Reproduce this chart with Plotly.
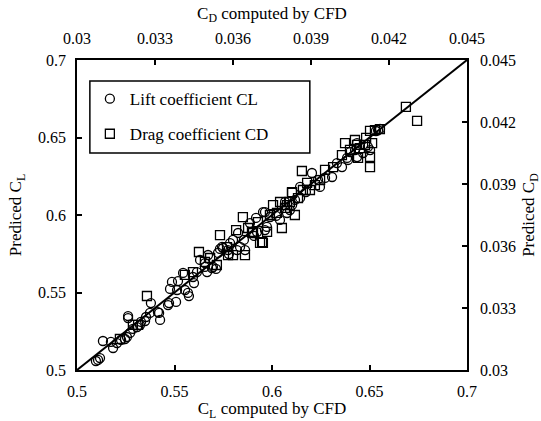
import plotly.graph_objects as go

# Lift coefficient: CFD (x) vs predicted (y)
cl_cfd = [0.5108, 0.5118, 0.5097, 0.5133, 0.5174, 0.5185, 0.5205, 0.5226, 0.5246, 0.5256,
          0.5272, 0.5287, 0.5308, 0.5323, 0.5328, 0.5349, 0.5354, 0.5374, 0.5379, 0.5421,
          0.5426, 0.5262, 0.5262, 0.5467, 0.5415, 0.5472, 0.5508, 0.5477, 0.5513, 0.5487,
          0.5518, 0.5554, 0.5574, 0.5544, 0.5595, 0.5600, 0.5615, 0.5631, 0.5656, 0.5667,
          0.5697, 0.5713, 0.5733, 0.5749, 0.5779, 0.5800, 0.5826, 0.5862, 0.5887, 0.5918,
          0.5923, 0.5964, 0.5974, 0.5569, 0.5656, 0.5672, 0.5692, 0.5723, 0.5774, 0.5821,
          0.5785, 0.5836, 0.5744, 0.5964, 0.6041, 0.6077, 0.6118, 0.5990, 0.5954, 0.6144,
          0.6205, 0.6308, 0.6390, 0.6426, 0.6333, 0.6359, 0.6246, 0.6144, 0.6067, 0.6544,
          0.6554, 0.6436, 0.6492, 0.6467, 0.6400, 0.6385, 0.6503, 0.6436, 0.6533, 0.6021,
          0.6103, 0.6174, 0.6272, 0.5908, 0.5856, 0.6236, 0.6092]
cl_pred = [0.5065, 0.5077, 0.5058, 0.5187, 0.5181, 0.5142, 0.5174, 0.5194, 0.5200, 0.5213,
           0.5239, 0.5265, 0.5277, 0.5290, 0.5310, 0.5316, 0.5342, 0.5368, 0.5432, 0.5368,
           0.5323, 0.5348, 0.5335, 0.5419, 0.5374, 0.5432, 0.5439, 0.5523, 0.5516, 0.5568,
           0.5574, 0.5516, 0.5477, 0.5626, 0.5600, 0.5561, 0.5632, 0.5710, 0.5665, 0.5632,
           0.5665, 0.5652, 0.5781, 0.5787, 0.5748, 0.5839, 0.5884, 0.5774, 0.5948, 0.5981,
           0.5890, 0.6019, 0.5923, 0.5497, 0.5690, 0.5742, 0.5658, 0.5755, 0.5774, 0.5774,
           0.5819, 0.5794, 0.5794, 0.5903, 0.5968, 0.6013, 0.6097, 0.5987, 0.6019, 0.6181,
           0.6271, 0.6245, 0.6355, 0.6419, 0.6335, 0.6309, 0.6181, 0.6110, 0.6084, 0.6548,
           0.6555, 0.6464, 0.6439, 0.6400, 0.6406, 0.6368, 0.6419, 0.6374, 0.6542, 0.5994,
           0.6065, 0.6148, 0.6239, 0.5865, 0.5839, 0.6226, 0.6032]

# Drag coefficient: CFD (x) vs predicted (y)
cd_cfd = [0.04265, 0.04308, 0.04127, 0.04165, 0.04135, 0.04127, 0.04127, 0.04031, 0.04088, 0.04081,
          0.04077, 0.04019, 0.03954, 0.03865, 0.03985, 0.03827, 0.03869, 0.03915, 0.03885, 0.03781,
          0.03769, 0.03808, 0.03838, 0.03754, 0.03788, 0.03731, 0.03677, 0.03638, 0.03612, 0.03704,
          0.03712, 0.03646, 0.03577, 0.03550, 0.03581, 0.03600, 0.03492, 0.03469, 0.03446, 0.03538,
          0.03269, 0.03215, 0.03165, 0.03715, 0.03673, 0.03827, 0.04112, 0.04108, 0.04050, 0.03935,
          0.03742, 0.03800, 0.03850, 0.03896, 0.03658, 0.03696, 0.03512, 0.03415, 0.03235, 0.04069,
          0.04146, 0.03819]
cd_pred = [0.04273, 0.04205, 0.04157, 0.04166, 0.04098, 0.04031, 0.03982, 0.04098, 0.04074, 0.04026,
           0.04089, 0.04040, 0.03968, 0.03963, 0.03982, 0.03861, 0.03871, 0.03895, 0.03905, 0.03813,
           0.03760, 0.03798, 0.03750, 0.03798, 0.03687, 0.03668, 0.03663, 0.03740, 0.03677, 0.03615,
           0.03619, 0.03556, 0.03595, 0.03653, 0.03556, 0.03556, 0.03523, 0.03571, 0.03474, 0.03508,
           0.03358, 0.03218, 0.03150, 0.03615, 0.03668, 0.03857, 0.04123, 0.04089, 0.04065, 0.03919,
           0.03750, 0.03784, 0.03832, 0.03871, 0.03687, 0.03716, 0.03542, 0.03460, 0.03218, 0.04113,
           0.04161, 0.03813]

diag = [0.5, 0.7]
cl_ticks = [0.5, 0.55, 0.6, 0.65, 0.7]
cl_ticktext = ["0.5", "0.55", "0.6", "0.65", "0.7"]
cd_ticks = [0.03, 0.033, 0.036, 0.039, 0.042, 0.045]
cd_ticktext = ["0.03", "0.033", "0.036", "0.039", "0.042", "0.045"]

FONT = "Liberation Serif"

fig = go.Figure()
fig.add_trace(go.Scatter(x=diag, y=diag, mode="lines", line=dict(color="black", width=2),
                         showlegend=False, hoverinfo="skip"))
fig.add_trace(go.Scatter(x=cl_cfd, y=cl_pred, mode="markers", name="Lift coefficient CL",
                         legendgroup="a",
                         marker=dict(symbol="circle-open", size=9, color="black",
                                     line=dict(width=1.3, color="black"))))
fig.add_trace(go.Scatter(x=cd_cfd, y=cd_pred, mode="markers", name="Drag coefficient CD",
                         legendgroup="b", xaxis="x2", yaxis="y2",
                         marker=dict(symbol="square-open", size=9, color="black",
                                     line=dict(width=1.3, color="black"))))

axis_common = dict(showgrid=False, zeroline=False, showline=True, linecolor="black",
                   linewidth=1.5, ticks="inside", ticklen=5, tickwidth=1.5, tickcolor="black",
                   automargin=False,
                   tickfont=dict(family=FONT, size=16, color="black"))

fig.update_layout(
    width=541, height=421,
    margin=dict(l=77, r=74, t=60, b=51),
    plot_bgcolor="white", paper_bgcolor="white",
    font=dict(family=FONT, size=16, color="black"),
    xaxis=dict(range=[0.5, 0.7], tickvals=cl_ticks, ticktext=cl_ticktext,
               ticklabelstandoff=6,
               title=dict(text="C<sub>L</sub> computed by CFD", standoff=0,
                          font=dict(family=FONT, size=17)), **axis_common),
    yaxis=dict(range=[0.5, 0.7], tickvals=cl_ticks, ticktext=cl_ticktext,
               ticklabelstandoff=6,
               title=dict(text="Prediced C<sub>L</sub>", standoff=12,
                          font=dict(family=FONT, size=17)), **axis_common),
    xaxis2=dict(range=[0.03, 0.045], tickvals=cd_ticks, ticktext=cd_ticktext,
                overlaying="x", side="top", anchor="y", ticklabelstandoff=8,
                title=dict(text="C<sub>D</sub> computed by CFD", standoff=6,
                           font=dict(family=FONT, size=17)), **axis_common),
    yaxis2=dict(range=[0.03, 0.045], tickvals=cd_ticks, ticktext=cd_ticktext,
                overlaying="y", side="right", anchor="x", ticklabelstandoff=8,
                title=dict(text="Prediced C<sub>D</sub>", standoff=10,
                           font=dict(family=FONT, size=17)), **axis_common),
    legend=dict(x=0.033, y=0.932, xanchor="left", yanchor="top",
                borderwidth=0, bgcolor="rgba(0,0,0,0)",
                font=dict(family=FONT, size=17, color="black"),
                traceorder="grouped", tracegroupgap=10, itemwidth=30),
    shapes=[dict(type="rect", xref="paper", yref="paper",
                 x0=0.033, x1=0.597, y0=0.70, y1=0.932,
                 line=dict(color="black", width=1.5), fillcolor="white", layer="below")],
    showlegend=True,
)

fig.write_html("out.html")
